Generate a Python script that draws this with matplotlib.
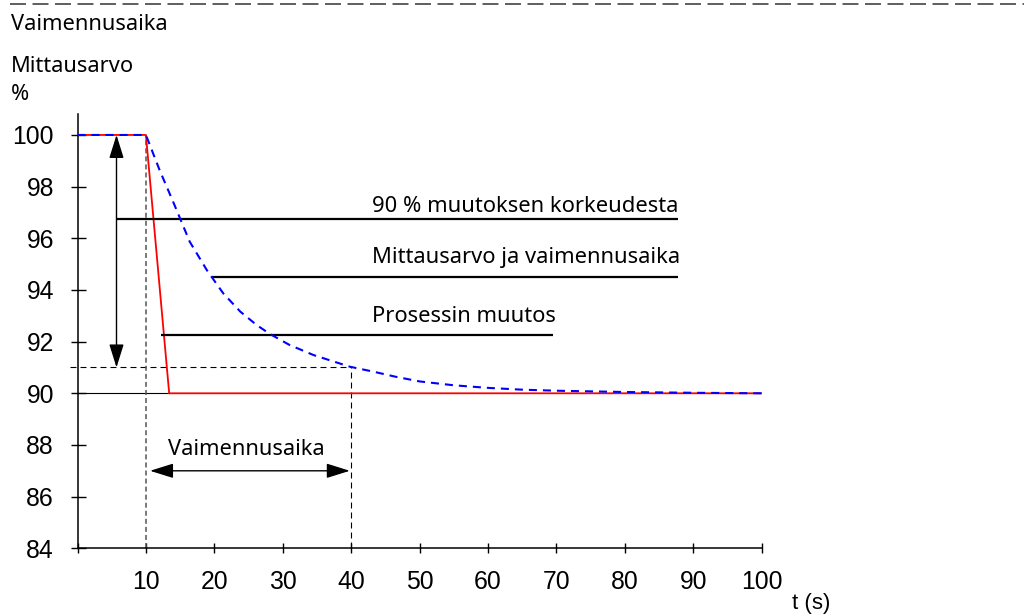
import matplotlib
matplotlib.use("Agg")
import matplotlib.pyplot as plt
from matplotlib.lines import Line2D

plt.rcParams['lines.scale_dashes'] = False

# ---- data ----
t_process = [0, 10, 13.4, 100]
v_process = [100, 100, 90, 90]

t_meas = [0, 10, 12, 14, 16.4, 18.9, 21.3, 23.8, 26.2, 28.1, 31, 34.5, 39.8, 43.2,
          46.5, 50, 55, 60, 65, 70, 80, 90, 100]
v_meas = [100, 100, 98.64, 97.4, 95.87, 94.77, 93.87, 93.16, 92.64, 92.3, 91.87, 91.48,
          91.03, 90.84, 90.64, 90.46, 90.31, 90.21, 90.14, 90.1, 90.05, 90.02, 90.0]

x_ticks = [0, 10, 20, 30, 40, 50, 60, 70, 80, 90, 100]
x_tick_labels = ['', '10', '20', '30', '40', '50', '60', '70', '80', '90', '100']
y_ticks = [84, 86, 88, 90, 92, 94, 96, 98, 100]

legend_labels = ['90 % muutoksen korkeudesta', 'Mittausarvo ja vaimennusaika', 'Prosessin muutos']
legend_levels = [96.75, 94.51, 92.26]
legend_starts = [5.7, 19.6, 12.2]
legend_ends = [87.7, 87.7, 69.5]
legend_text_y = [97.03, 95.04, 92.77]

damping_start = 10
damping_end = 40
level_90pct = 91
final_level = 90

TXT = 'Noto Sans'
TICK = 'Liberation Sans'

fig = plt.figure(figsize=(10.24, 6.14), dpi=100)
ax = fig.add_axes([77.5 / 1024, 65.7 / 614, 684.2 / 1024, 434 / 614])
ax.set_xlim(0, 100)
ax.set_ylim(84, 100.8)

for s in ['top', 'right']:
    ax.spines[s].set_visible(False)
ax.spines['left'].set_linewidth(1.1)
ax.spines['bottom'].set_linewidth(1.1)

ax.set_xticks(x_ticks)
ax.set_xticklabels(x_tick_labels)
ax.set_yticks(y_ticks)
ax.tick_params(axis='y', direction='inout', length=10.8, width=1.0, pad=11.5,
               labelsize=17.8, colors='black')
ax.tick_params(axis='x', direction='inout', length=7.2, width=1.0, pad=12.3,
               labelsize=17.8, colors='black')
for lab in ax.get_xticklabels() + ax.get_yticklabels():
    lab.set_fontfamily(TICK)

# reference lines
ax.plot([0, t_process[2]], [final_level, final_level], color='black', lw=0.8, zorder=2)
ax.plot([-1.1, damping_end], [level_90pct, level_90pct], color='black', lw=0.8,
        dashes=(4.3, 2.9), clip_on=False, zorder=2)
ax.plot([damping_start, damping_start], [84, 100], color='#555555', lw=1.1,
        dashes=(3.6, 2.2), zorder=2)
ax.plot([damping_end, damping_end], [84, level_90pct], color='black', lw=0.8,
        dashes=(4.3, 2.9), zorder=2)

# curves
ax.plot(t_process, v_process, color='red', lw=1.3, zorder=3)
ax.plot(t_meas, v_meas, color='blue', lw=1.5, dashes=(5.8, 4.3), zorder=4)

# legend-like lines and texts
for lbl, lev, xs, xe, ty in zip(legend_labels, legend_levels, legend_starts, legend_ends, legend_text_y):
    ax.plot([xs, xe], [lev, lev], color='black', lw=1.6, zorder=3, solid_capstyle='butt')
    ax.text(43.1, ty, lbl, fontsize=15.8, family=TXT, ha='left', va='baseline')

# arrows
ax.annotate('', xy=(5.7, 100), xytext=(5.7, level_90pct),
            arrowprops=dict(arrowstyle='<|-|>,head_length=0.8,head_width=0.25',
                            mutation_scale=18, color='black', lw=1.0,
                            shrinkA=0, shrinkB=0))
ax.annotate('', xy=(10.6, 87), xytext=(39.8, 87),
            arrowprops=dict(arrowstyle='<|-|>,head_length=0.8,head_width=0.25',
                            mutation_scale=18, color='black', lw=1.0,
                            shrinkA=0, shrinkB=0))
ax.text(24.7, 87.6, 'Vaimennusaika', fontsize=15.7, family=TXT, ha='center', va='baseline')

# headings
fig.text(11 / 1024, 1 - 30 / 614, 'Vaimennusaika', fontsize=15.7, family=TXT, va='baseline')
fig.text(11 / 1024, 1 - 72 / 614, 'Mittausarvo', fontsize=15.7, family=TXT, va='baseline')
fig.text(11 / 1024, 1 - 100 / 614, '%', fontsize=15.7, family=TXT, va='baseline')
fig.text(792 / 1024, 1 - 609 / 614, 't (s)', fontsize=16, family=TICK, va='baseline')

# top dashed separator
fig.add_artist(Line2D([10 / 1024, 1], [1 - 4 / 614, 1 - 4 / 614], transform=fig.transFigure,
                      color='#333333', lw=1.1, dashes=(11.5, 4.7)))

fig.savefig('out.png', dpi=100)
